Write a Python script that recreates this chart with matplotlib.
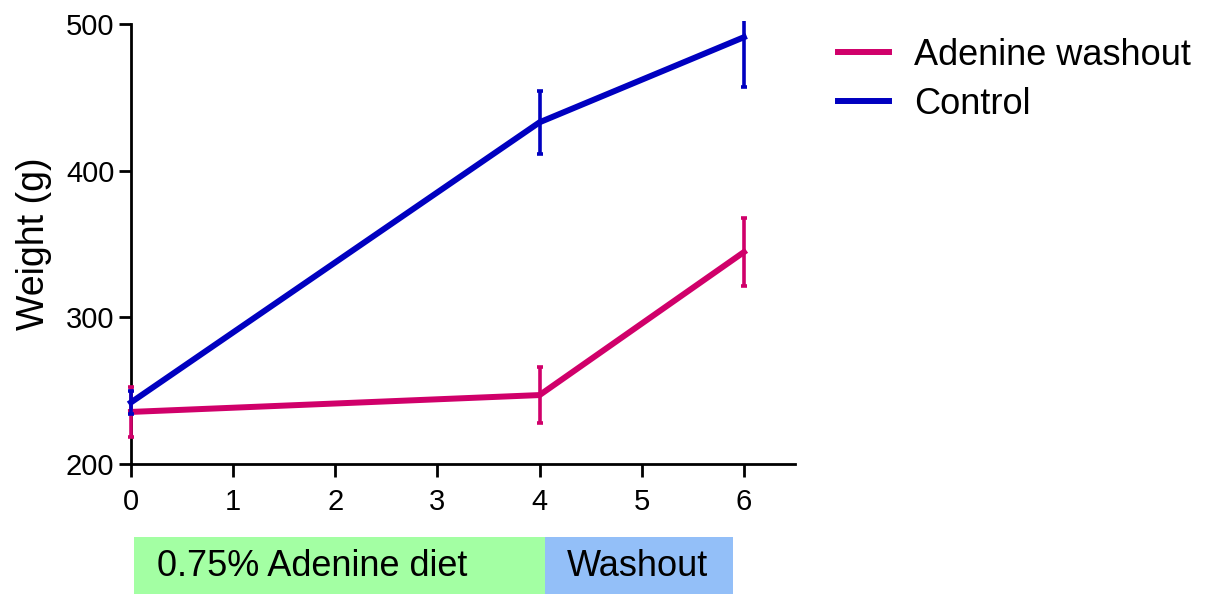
import matplotlib.pyplot as plt
from matplotlib.patches import Rectangle
from matplotlib.transforms import Bbox, TransformedBbox

plt.rcParams['font.family'] = ['Liberation Sans', 'DejaVu Sans']

weeks = [0, 4, 6]
control_mean = [242, 433, 491]
control_sem = [8, 21.5, 34]
adenine_mean = [235.5, 247, 344.5]
adenine_sem = [17, 19, 23]

phase_labels = ['0.75% Adenine diet', 'Washout']
phase_start = [0.03, 4.05]
phase_end = [4.05, 5.89]
phase_colors = ['#a3ffa3', '#93bff8']

blue = '#0000c0'
pink = '#d0006a'

fig = plt.figure(figsize=(12.11, 5.95), dpi=100)
ax = fig.add_axes([131 / 1211, 131 / 595, 664 / 1211, 440 / 595])

# clip a little outside the axes so the bars at week 0 sit over the spine
clip = TransformedBbox(Bbox([[-0.3, 190], [6.6, 502]]), ax.transData)

for mean, sem, c, lab in [(adenine_mean, adenine_sem, pink, 'Adenine washout'),
                          (control_mean, control_sem, blue, 'Control')]:
    eb = ax.errorbar(weeks, mean, yerr=sem, color=c, lw=4.3,
                     elinewidth=2.6, capsize=2, capthick=2.6, label=lab)
    for art in [eb[0], *eb[1], *eb[2]]:
        art.set_clip_box(clip)
        art.set_zorder(3)

ax.set_xlim(0, 6.5)
ax.set_ylim(200, 500)
ax.set_xticks(range(7))
ax.set_yticks([200, 300, 400, 500])
ax.set_ylabel('Weight (g)', fontsize=27, labelpad=10)
for s in ['top', 'right']:
    ax.spines[s].set_visible(False)
for s in ['left', 'bottom']:
    ax.spines[s].set_linewidth(2)
ax.tick_params(direction='out', length=9, width=2, labelsize=21)
ax.tick_params(axis='x', pad=8)
ax.tick_params(axis='y', pad=3)

handles, labels = ax.get_legend_handles_labels()
handles = [h[0] for h in handles]
fig.legend(handles, labels, loc='upper left', bbox_to_anchor=(838 / 1211, 1 - 38 / 595),
           frameon=False, fontsize=26, handlelength=1.4, handletextpad=0.7,
           labelspacing=0.38, borderpad=0, borderaxespad=0)

# diet phase bar under the x axis
bar = fig.add_axes([131 / 1211, 1 / 595, 664 / 1211, 57 / 595])
bar.set_xlim(0, 6.5)
bar.set_ylim(0, 1)
bar.axis('off')
for lab, x0, x1, c in zip(phase_labels, phase_start, phase_end, phase_colors):
    bar.add_patch(Rectangle((x0, 0), x1 - x0, 1, color=c, lw=0))
    bar.text(x0 + 0.22, 0.48, lab, fontsize=26, va='center', ha='left')

fig.savefig('out.png', dpi=100)
